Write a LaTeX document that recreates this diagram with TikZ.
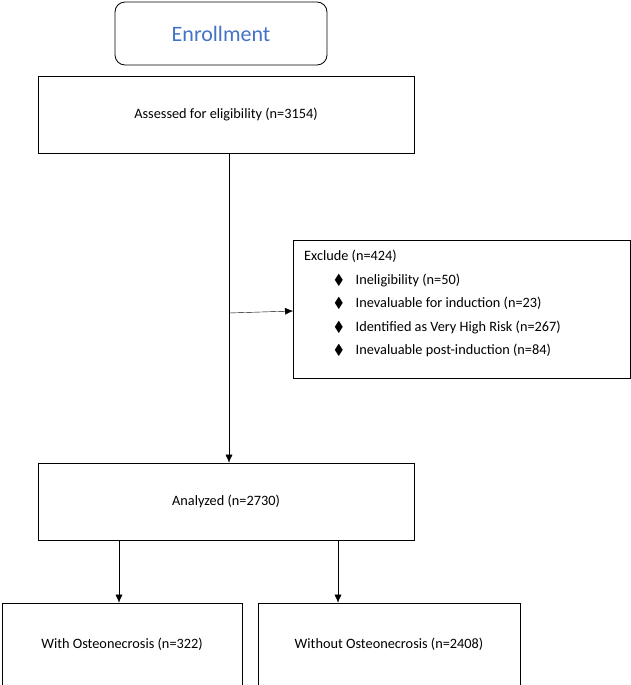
\documentclass[tikz,border=0pt]{standalone}
\usepackage{amssymb}
\usepackage{fontspec}
\setmainfont{Carlito}
\usetikzlibrary{arrows.meta}
\definecolor{enblue}{RGB}{68,114,196}
\begin{document}
\begin{tikzpicture}[x=1pt,y=-1pt,
  box/.style={draw,thick,minimum width=#1,inner sep=0pt},
  arr/.style={-{Latex[length=8pt,width=7pt]}},
  font=\fontsize{14.3}{23.5}\selectfont]
\useasboundingbox (0,0) rectangle (631,685);
\node[draw,thick,rounded corners=10pt,minimum width=212pt,minimum height=63pt,text=enblue,font=\fontsize{22}{24}\selectfont] (enr) at (221,33.5) {Enrollment};
\node[box=376pt,minimum height=77pt] (ass) at (226,114.5) {Assessed for eligibility (n=3154)};
\node[box=337pt,minimum height=138pt,anchor=north west] (exc) at (293,240) {};
\node[anchor=north west,align=left,inner sep=0pt] (exct) at (304,250) {Exclude (n=424)\\
\hspace*{30pt}$\blacklozenge$\hspace{12pt}Ineligibility (n=50)\\
\hspace*{30pt}$\blacklozenge$\hspace{12pt}Inevaluable for induction (n=23)\\
\hspace*{30pt}$\blacklozenge$\hspace{12pt}Identified as Very High Risk (n=267)\\
\hspace*{30pt}$\blacklozenge$\hspace{12pt}Inevaluable post-induction (n=84)};
\node[box=376pt,minimum height=77pt] (ana) at (226,501.5) {Analyzed (n=2730)};
\node[box=240pt,minimum height=82pt] (w) at (122,644) {With Osteonecrosis (n=322)};
\node[box=262pt,minimum height=82pt] (wo) at (389,644) {Without Osteonecrosis (n=2408)};
\coordinate (br) at (229,313);
\draw[arr] (ass.south -| br) -- (ana.north -| br);
\draw[arr] (br) -- (exc.west |- 0,311);
\draw[arr] (119,540) -- (w.north -| 119,0);
\draw[arr] (338,540) -- (wo.north -| 338,0);
\end{tikzpicture}
\end{document}
